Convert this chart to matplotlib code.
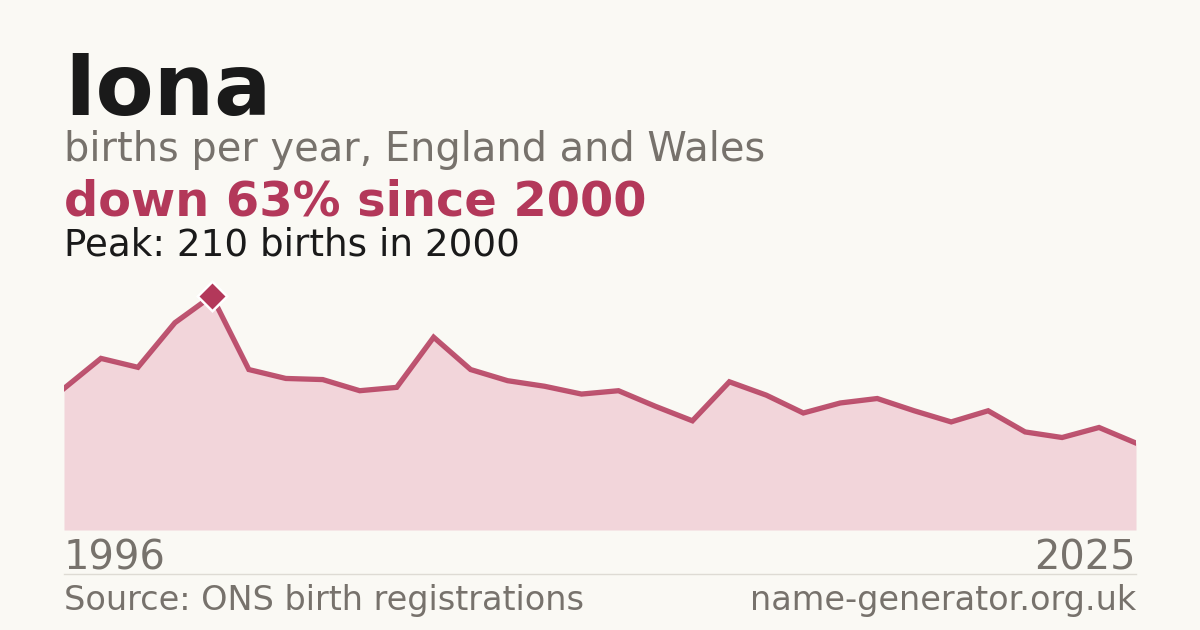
import matplotlib
matplotlib.use("Agg")
import matplotlib.pyplot as plt
from matplotlib.lines import Line2D

# births per year for Iona
years = list(range(1996, 2026))
births = [127, 154, 146, 186, 210, 144, 136, 135, 125, 128,
          173, 144, 134, 129, 122, 125, 111, 98, 133, 121,
          105, 114, 118, 107, 97, 107, 88, 83, 92, 78]

name = "Iona"
subtitle = "births per year, England and Wales"
headline = "down 63% since 2000"
peak_note = "Peak: 210 births in 2000"
source = "Source: ONS birth registrations"
site = "name-generator.org.uk"

BG = "#faf9f4"
RED = "#b3385a"
FILL = "#f2d5da"
GREY = "#77726c"
DARK = "#1a1a1a"

W, H = 1200, 630
fig = plt.figure(figsize=(W / 100, H / 100), dpi=100, facecolor=BG)

def px(x, y):
    # pixel coords (from top-left) -> figure fraction
    return x / W, 1 - y / H

# plot area: 64..1136 px wide, baseline at 530, peak at 296
ax = fig.add_axes([64 / W, (H - 530) / H, 1072 / W, 234 / H])
ax.set_facecolor(BG)
ax.fill_between(years, births, 0, color=FILL, lw=0)
ax.plot(years, births, color=RED, lw=3.8, alpha=0.85, solid_joinstyle="miter")

# peak marker: rounded diamond with a white halo
pk = births.index(max(births))
ax.plot(years[pk], births[pk], marker="D", ms=14, color="white",
        mec="white", mew=2.5, clip_on=False, zorder=5)
ax.plot(years[pk], births[pk], marker="D", ms=11, color=RED,
        mec=RED, mew=2, clip_on=False, zorder=6)
ax.set_xlim(years[0], years[-1])
ax.set_ylim(0, max(births))
ax.axis("off")

# header texts
fig.text(*px(64, 115), name, fontsize=61, fontweight="bold", color=DARK, va="baseline")
fig.text(*px(64, 161), subtitle, fontsize=28.7, color=GREY, va="baseline")
fig.text(*px(64, 215), headline, fontsize=34.5, fontweight="bold", color=RED, va="baseline")
fig.text(*px(64, 255), peak_note, fontsize=26.8, color=DARK, va="baseline")

# year labels
fig.text(*px(64, 570), str(years[0]), fontsize=28.8, color=GREY, va="baseline")
fig.text(*px(1136, 570), str(years[-1]), fontsize=28.8, color=GREY, va="baseline", ha="right")

# separator and footer
fig.add_artist(Line2D([64 / W, 1136 / W], [1 - 574 / H] * 2, color="#dedbd4", lw=1))
fig.text(*px(64, 610), source, fontsize=24.1, color=GREY, va="baseline")
fig.text(*px(1136, 610), site, fontsize=24.1, color=GREY, va="baseline", ha="right")

fig.savefig("out.png", dpi=100, facecolor=BG)
